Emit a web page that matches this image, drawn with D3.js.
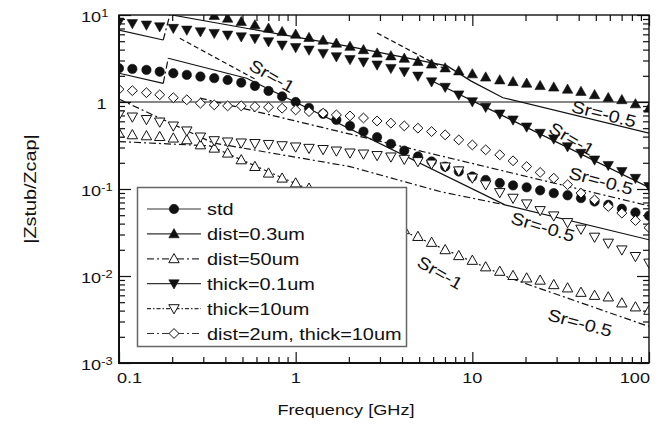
<!DOCTYPE html>
<html>
<head>
<meta charset="utf-8">
<script src="https://cdn.jsdelivr.net/npm/d3@7"></script>
<style>
  body { margin: 0; background: #fff; }
  svg { display: block; font-family: "Liberation Sans", Arial, sans-serif; }
</style>
</head>
<body>
<svg id="chart" width="669" height="433"></svg>
<script>
// Frequencies (GHz) of the simulated points
const freq = [0.1, 0.119, 0.143, 0.17, 0.203, 0.242, 0.289, 0.346, 0.412, 0.492, 0.588, 0.702, 0.838,
  1, 1.19, 1.43, 1.7, 2.03, 2.42, 2.89, 3.46, 4.12, 4.92, 5.88, 7.02, 8.38,
  10, 11.9, 14.3, 17, 20.3, 24.2, 28.9, 34.6, 41.2, 49.2, 58.8, 70.2, 83.8, 100];

// |Zstub/Zcap| for each case
const stdVals = [2.44, 2.40, 2.34, 2.23, 2.14, 2.05, 1.96, 1.88, 1.79, 1.67, 1.53, 1.34, 1.16,
  1.00, 0.855, 0.730, 0.623, 0.531, 0.457, 0.394, 0.330, 0.276, 0.236, 0.207, 0.181, 0.159,
  0.139, 0.127, 0.117, 0.110, 0.1045, 0.0965, 0.0896, 0.0846, 0.0785, 0.0718, 0.0658, 0.0592, 0.0537, 0.0492];
const dist03Vals = [null, null, null, null, null, null, null, 9.87, 9.17, 8.38, 7.68, 7.04, 6.43,
  6.00, 5.49, 5.12, 4.73, 4.35, 3.98, 3.64, 3.38, 3.17, 2.91, 2.72, 2.46, 2.27,
  2.10, 1.93, 1.79, 1.71, 1.64, 1.54, 1.48, 1.40, 1.32, 1.21, 1.12, 1.06, 0.95, 0.848];
const dist50Vals = [0.438, 0.419, 0.408, 0.400, 0.384, 0.367, 0.321, 0.294, 0.258, 0.216, 0.181, 0.152, 0.133,
  0.117, 0.102, 0.0896, 0.0785, 0.0667, 0.0566, 0.0483, 0.0412, 0.0340, 0.0284, 0.0243, 0.0200, 0.0171,
  0.0151, 0.0127, 0.0113, 0.0101, 0.00947, 0.00893, 0.00793, 0.00727, 0.00647, 0.00597, 0.00573, 0.00489, 0.00440, 0.00402];
const thin01Vals = [8.31, 7.99, 7.68, 7.34, 7.04, 6.72, 6.43, 6.16, 5.89, 5.63, 5.37, 4.94, 4.52,
  4.23, 3.96, 3.63, 3.32, 3.08, 2.89, 2.67, 2.44, 2.23, 1.99, 1.71, 1.48, 1.21,
  1.01, 0.871, 0.730, 0.623, 0.517, 0.438, 0.377, 0.307, 0.258, 0.216, 0.187, 0.159, 0.133, 0.107];
const thick10Vals = [0.711, 0.674, 0.631, 0.590, 0.531, 0.466, 0.397, 0.36, 0.348, 0.339, 0.334, 0.326, 0.315,
  0.305, 0.294, 0.285, 0.274, 0.260, 0.253, 0.243, 0.234, 0.220, 0.207, 0.194, 0.180, 0.162,
  0.134, 0.112, 0.0911, 0.0785, 0.0676, 0.0566, 0.0492, 0.0412, 0.0346, 0.0280, 0.0239, 0.0200, 0.0168, 0.0141];
const dist2Vals = [1.40, 1.35, 1.28, 1.21, 1.12, 1.06, 0.968, 0.926, 0.902, 0.902, 0.885, 0.871, 0.848,
  0.811, 0.775, 0.743, 0.711, 0.692, 0.655, 0.605, 0.571, 0.531, 0.500, 0.457, 0.419, 0.367,
  0.321, 0.282, 0.247, 0.211, 0.181, 0.155, 0.133, 0.112, 0.0896, 0.0751, 0.0629, 0.0528, 0.0434, 0.0359];

// Model (Sr slope) lines, [frequency, value]
const modelTopLeft = [[0.1, 6.72], [0.178, 5.16]];
const jumpTop = [[0.178, 5.16], [0.194, 10]];
const modelDist03 = [[0.199, 10], [2.03, 4.32], [7.2, 2.6], [9.8, 1.75], [14.9, 1.12], [100, 0.438]];
const modelThin01 = [[5.76, 1.79], [100, 0.1045]];
const guideStd = [[0.221, 5.40], [0.602, 1.79]];
const guideDist03 = [[2.89, 6.21], [6.82, 2.46]];
const modelStdLeft = [[0.1, 2.14], [0.178, 1.64]];
const jumpStd = [[0.178, 1.64], [0.190, 3.18]];
const modelStd = [[0.190, 3.18], [0.528, 1.876], [15.3, 0.0658], [100, 0.0261]];
const modelDist50 = [[0.1, 0.351], [0.327, 0.313], [16.3, 0.00947], [100, 0.00263]];
const modelThick10 = [[0.1, 1.08], [0.34, 0.339], [2.03, 0.181], [6.56, 0.0935], [15.3, 0.0658]];
const modelDist2 = [[0.287, 1.11], [100, 0.064]];
const unityLine = [[0.1, 1], [100, 1]];

// Slope annotations: text, frequency, value, angle
const slopeNotes = [
  ["Sr=-1", 0.735, 1.99, 30],
  ["Sr=-0.5", 55.6, 0.73, 14],
  ["Sr=-1", 36.6, 0.377, 30],
  ["Sr=-0.5", 53.5, 0.124, 15],
  ["Sr=-0.5", 25.1, 0.0367, 17],
  ["Sr=-1", 6.56, 0.0109, 30],
  ["Sr=-0.5", 40.7, 0.0029, 15]
];

const xTickLabels = ["0.1", "1", "10", "100"];
const xMajor = [0.1, 1, 10, 100];
const yMajor = [1e-3, 1e-2, 1e-1, 1, 10];
const yExponents = ["-3", "-2", "-1", "", "1"];

const legendNames = ["std", "dist=0.3um", "dist=50um", "thick=0.1um", "thick=10um", "dist=2um, thick=10um"];

// Layout
const svg = d3.select("#chart");
const plot = {left: 119, right: 649, top: 15, bottom: 363};
const x = d3.scaleLog().domain([0.1, 100]).range([plot.left, plot.right]);
const y = d3.scaleLog().domain([1e-3, 10]).range([plot.bottom, plot.top]);
const SX = 1.17; // text in the figure is a bit wide

function stext(sel, px, py, str, size, anchor, rot) {
  return sel.append("text")
    .attr("transform", `translate(${px},${py}) rotate(${rot || 0}) scale(${SX},1)`)
    .attr("font-size", size)
    .attr("text-anchor", anchor)
    .attr("fill", "#111")
    .text(str);
}

// Clip path for the plot area
svg.append("defs").append("clipPath").attr("id", "clip")
  .append("rect")
  .attr("x", plot.left).attr("y", plot.top)
  .attr("width", plot.right - plot.left).attr("height", plot.bottom - plot.top);

// Ticks (inward on all four sides)
const decadesX = [0.1, 1, 10];
const decadesY = [1e-3, 1e-2, 1e-1, 1];
const minorX = decadesX.flatMap(d => [2, 3, 4, 5, 6, 7, 8, 9].map(m => d * m));
const minorY = decadesY.flatMap(d => [2, 3, 4, 5, 6, 7, 8, 9].map(m => d * m));

function tickAxis(axisFn, scale, values, size, transform) {
  const g = svg.append("g").attr("transform", transform)
    .call(axisFn(scale).tickValues(values).tickSize(size).tickFormat(""));
  g.select(".domain").remove();
  g.selectAll("line").attr("stroke", "#111").attr("stroke-width", 1.2);
}
tickAxis(d3.axisBottom, x, xMajor, -11, `translate(0,${plot.bottom})`);
tickAxis(d3.axisBottom, x, minorX, -6, `translate(0,${plot.bottom})`);
tickAxis(d3.axisTop, x, xMajor, -11, `translate(0,${plot.top})`);
tickAxis(d3.axisTop, x, minorX, -6, `translate(0,${plot.top})`);
tickAxis(d3.axisLeft, y, yMajor, -12, `translate(${plot.left},0)`);
tickAxis(d3.axisLeft, y, minorY, -6, `translate(${plot.left},0)`);
tickAxis(d3.axisRight, y, yMajor, -12, `translate(${plot.right},0)`);
tickAxis(d3.axisRight, y, minorY, -6, `translate(${plot.right},0)`);

// Lines
const plotArea = svg.append("g").attr("clip-path", "url(#clip)");
const line = d3.line().x(d => x(d[0])).y(d => y(d[1]));
const DASHDOT = "7,3,2,3";
function drawLine(pts, dash) {
  plotArea.append("path")
    .attr("d", line(pts))
    .attr("fill", "none")
    .attr("stroke", "#111")
    .attr("stroke-width", 1.2)
    .attr("stroke-dasharray", dash || null);
}
drawLine(unityLine);
drawLine(modelTopLeft);
drawLine(jumpTop, DASHDOT);
drawLine(modelDist03);
drawLine(modelThin01);
drawLine(guideStd, "5,3");
drawLine(guideDist03, "5,3");
drawLine(modelStdLeft);
drawLine(jumpStd, DASHDOT);
drawLine(modelStd);
drawLine(modelDist50, DASHDOT);
drawLine(modelThick10, DASHDOT);
drawLine(modelDist2, DASHDOT);

// Marker shapes
const shapes = {
  circle: "M4.7,0A4.7,4.7 0 1,1 -4.7,0A4.7,4.7 0 1,1 4.7,0Z",
  up: "M0,-5.3L5.2,3.9L-5.2,3.9Z",
  down: "M0,5.3L5.2,-3.9L-5.2,-3.9Z",
  diamond: "M0,-4.9L5,0L0,4.9L-5,0Z"
};
const series = [
  {vals: stdVals, shape: "circle", filled: true, dash: null},
  {vals: dist03Vals, shape: "up", filled: true, dash: null},
  {vals: dist50Vals, shape: "up", filled: false, dash: DASHDOT},
  {vals: thin01Vals, shape: "down", filled: true, dash: null},
  {vals: thick10Vals, shape: "down", filled: false, dash: "4,2,1.5,2"},
  {vals: dist2Vals, shape: "diamond", filled: false, dash: DASHDOT}
];

function marker(sel, s) {
  return sel.append("path")
    .attr("d", shapes[s.shape])
    .attr("fill", s.filled ? "#111" : "#fff")
    .attr("stroke", "#111")
    .attr("stroke-width", s.filled ? 0.6 : 1);
}

series.forEach(s => {
  const pts = freq.map((f, i) => [f, s.vals[i]]).filter(d => d[1] != null);
  plotArea.selectAll(null).data(pts).enter().append("g")
    .attr("transform", d => `translate(${x(d[0])},${y(d[1])})`)
    .each(function () { marker(d3.select(this), s); });
});

// Frame
svg.append("rect")
  .attr("x", plot.left).attr("y", plot.top)
  .attr("width", plot.right - plot.left).attr("height", plot.bottom - plot.top)
  .attr("fill", "none").attr("stroke", "#111").attr("stroke-width", 1.4);
svg.append("path")
  .attr("d", `M${plot.left},${plot.top}V${plot.bottom}H${plot.right}`)
  .attr("fill", "none").attr("stroke", "#111").attr("stroke-width", 2);

// Slope annotations
slopeNotes.forEach(n => {
  stext(svg, x(n[1]), y(n[2]), n[0], 17, "middle", n[3])
    .attr("dominant-baseline", "central");
});

// Tick labels
xMajor.forEach((v, i) => {
  const anchor = i === 0 ? "start" : (i === xMajor.length - 1 ? "end" : "middle");
  const px = i === 0 ? x(v) - 2 : (i === xMajor.length - 1 ? x(v) + 1 : x(v));
  stext(svg, px, plot.bottom + 20, xTickLabels[i], 15.5, anchor);
});
yMajor.forEach((v, i) => {
  if (yExponents[i] === "") {
    stext(svg, 101.5, y(v) + 7, "1", 15.5, "middle");
  } else {
    const t = stext(svg, 81, y(v) + 7, "10", 15.5, "start");
    t.append("tspan").attr("font-size", 11).attr("dy", -5).text(yExponents[i]);
  }
});

// Axis titles
stext(svg, 346, 415, "Frequency [GHz]", 15.5, "middle");
svg.append("text")
  .attr("transform", "translate(36,189) rotate(-90) scale(1.2,1)")
  .attr("font-size", 16.5)
  .attr("text-anchor", "middle")
  .attr("fill", "#111")
  .text("|Zstub/Zcap|");

// Legend
const legend = svg.append("g");
legend.append("rect")
  .attr("x", 137.5).attr("y", 187.5).attr("width", 269).attr("height", 159)
  .attr("fill", "#fff").attr("stroke", "#666").attr("stroke-width", 1.5);
legendNames.forEach((name, i) => {
  const ly = 209 + i * 24.9;
  const s = series[i];
  legend.append("line")
    .attr("x1", 147).attr("x2", 201).attr("y1", ly).attr("y2", ly)
    .attr("stroke", "#333").attr("stroke-width", 1.2)
    .attr("stroke-dasharray", s.dash);
  marker(legend.append("g").attr("transform", `translate(174,${ly})`), s);
  stext(legend, 207, ly + 6, name, 17, "start");
});
</script>
</body>
</html>
